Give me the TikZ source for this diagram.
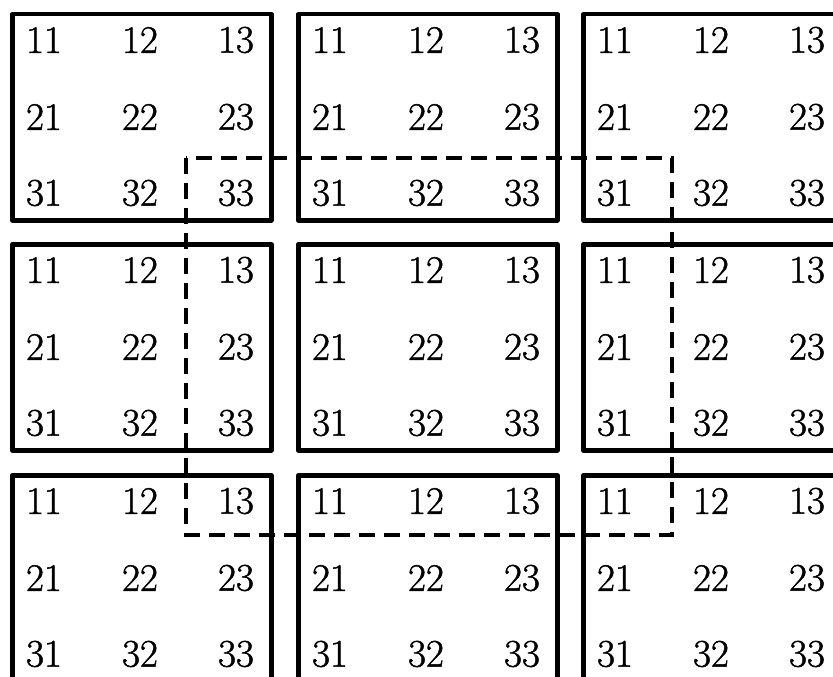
\documentclass[tikz,border=0pt]{standalone}
\usepackage{fontspec}
\newfontfamily\numfont{Latin Modern Roman}[FakeBold=1.2]
\begin{document}
\begin{tikzpicture}[x=1pt,y=-1pt,
  cell/.style={draw=black,line width=4.5pt,line join=round,minimum width=259pt,minimum height=206pt,anchor=north west,inner sep=0pt},
  num/.style={font=\numfont\fontsize{39}{39}\selectfont,inner sep=0pt,anchor=center},
  window/.style={draw=black,line width=4pt,dash pattern=on 16pt off 9pt}]
\clip (0,0) rectangle (833,677);
\useasboundingbox (0,0) rectangle (833,677);
\foreach \r/\ty in {1/12,2/242,3/473}{
  \foreach \c/\lx in {1/10,2/296,3/581}{
    \node[cell] (b\r\c) at (\lx,\ty) {};
    \foreach \i/\dy in {1/28,2/105,3/181}{
      \foreach \j/\dx in {1/34,2/130,3/226}{
        \node[num] (t\r\c\i\j) at ([xshift=\dx pt,yshift=-\dy pt]b\r\c.north west) {\i\j};
      }
    }
  }
}
\coordinate (wtl) at (186,158);
\coordinate (wbr) at (672,535);
\draw[window] (wtl) rectangle (wbr);
\end{tikzpicture}
\end{document}
